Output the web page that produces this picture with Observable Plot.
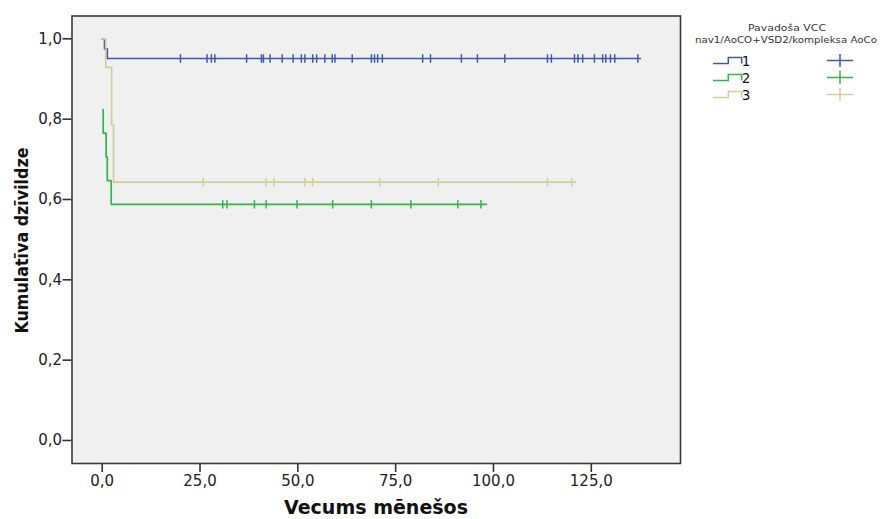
<!DOCTYPE html>
<html><head><meta charset="utf-8">
<script src="https://cdn.jsdelivr.net/npm/d3@7"></script>
<script src="https://cdn.jsdelivr.net/npm/@observablehq/plot@0.6"></script>
<style>body{margin:0;background:#fff}</style>
</head><body><div id="chart"></div>
<script>
const groups = ["1", "2", "3"];
const colors = ["#3e58ac", "#2eb848", "#d3ce97"];
const legendTitle = ["Pavadoša VCC", "nav1/AoCO+VSD2/kompleksa AoCo"];
const xLabel = "Vecums mēnešos";
const yLabel = "Kumulatīva dzīvildze";
const xTicks = [0, 25, 50, 75, 100, 125];
const yTicks = [0, 0.2, 0.4, 0.6, 0.8, 1.0];

// Kaplan–Meier step points (time in months, cumulative survival)
const g1Time = [0, 0.6, 1.3, 137.5];
const g1Surv = [1.0, 0.975, 0.951, 0.951];
const g2Time = [0.2, 0.25, 1.0, 1.3, 2.3, 98.2];
const g2Surv = [0.824, 0.765, 0.706, 0.647, 0.588, 0.588];
const g3Time = [0, 0.9, 2.4, 2.9, 121.0];
const g3Surv = [1.0, 0.929, 0.786, 0.643, 0.643];

// censored observations
const g1Censor = [20.0, 26.8, 27.9, 28.8, 36.9, 40.7, 41.2, 42.9, 46.0, 48.8, 50.9, 51.8, 53.8, 54.8, 56.9, 58.8, 59.5, 63.9, 68.8, 69.6, 70.4, 71.6, 81.9, 83.9, 91.8, 95.9, 102.9, 113.8, 114.8, 120.7, 121.6, 122.8, 125.8, 127.9, 128.7, 129.9, 131.0, 136.9];
const g2Censor = [30.8, 31.9, 38.9, 41.9, 49.8, 58.9, 68.8, 78.9, 90.9, 96.8];
const g3Censor = [25.8, 41.9, 43.9, 51.8, 53.8, 70.9, 85.9, 113.8, 120.0];

const steps = [[g1Time, g1Surv], [g2Time, g2Surv], [g3Time, g3Surv]];
const censors = [g1Censor, g2Censor, g3Censor];

const lineData = steps.flatMap(([t, s], i) => t.map((v, j) => ({group: groups[i], time: v, surv: s[j]})));
function survAt(i, time) {
  const [t, s] = steps[i];
  let v = s[0];
  for (let j = 0; j < t.length; j++) if (t[j] <= time) v = s[j];
  return v;
}
const censorData = censors.flatMap((c, i) => c.map(v => ({group: groups[i], time: v, surv: survAt(i, v)})));

const vline = {draw(ctx, size) { const h = Math.sqrt(size) / 2; ctx.moveTo(0, -h); ctx.lineTo(0, h); }};
const fmt = d => d.toFixed(1).replace(".", ",");

const chart = Plot.plot({
  width: 881, height: 519,
  marginLeft: 71.5, marginRight: 201, marginTop: 15.5, marginBottom: 56,
  style: {fontFamily: "DejaVu Sans", fontSize: "15px", color: "#222", background: "#fff"},
  x: {domain: [-7.72, 147.8]},
  y: {domain: [-0.0573, 1.0568]},
  color: {domain: groups, range: colors},
  marks: [
    Plot.frame({fill: "#f0f0f0"}),
    Plot.line(lineData, {x: "time", y: "surv", z: "group", stroke: "group", curve: "step-after", strokeWidth: 1.7}),
    Plot.dot(censorData, {x: "time", y: "surv", stroke: "group", symbol: vline, r: 4.8, strokeWidth: 1.5, fill: "none"}),
    Plot.frame({stroke: "#3a3a3a", strokeWidth: 1.6}),
    Plot.axisX(xTicks, {tickSize: 9, tickPadding: 3, tickFormat: fmt, label: null, stroke: "#333", strokeWidth: 1.6, fill: "#222"}),
    Plot.axisY(yTicks, {tickSize: 9, tickPadding: 1, tickFormat: fmt, label: null, stroke: "#333", strokeWidth: 1.6, fill: "#222"})
  ]
});
document.getElementById("chart").appendChild(chart);

const svg = d3.select(chart);
svg.append("text").attr("x", 376).attr("y", 514).attr("text-anchor", "middle")
  .attr("font-family", "DejaVu Sans").attr("font-weight", "bold").attr("font-size", 19)
  .attr("fill", "#111").attr("textLength", 184).attr("lengthAdjust", "spacingAndGlyphs").text(xLabel);
svg.append("text").attr("transform", "translate(28,240.5) rotate(-90)").attr("text-anchor", "middle")
  .attr("font-family", "DejaVu Sans").attr("font-weight", "bold").attr("font-size", 17)
  .attr("fill", "#111").attr("textLength", 186).attr("lengthAdjust", "spacingAndGlyphs").text(yLabel);

const lg = svg.append("g").attr("font-family", "DejaVu Sans").attr("fill", "#333");
lg.append("text").attr("x", 787).attr("y", 31).attr("text-anchor", "middle").attr("font-size", 9.5)
  .attr("textLength", 78).attr("lengthAdjust", "spacingAndGlyphs").text(legendTitle[0]);
lg.append("text").attr("x", 786).attr("y", 42.5).attr("text-anchor", "middle").attr("font-size", 9.5)
  .attr("textLength", 182).attr("lengthAdjust", "spacingAndGlyphs").text(legendTitle[1]);
const rowY = [60.5, 77.5, 94.5];
groups.forEach((g, i) => {
  const y = rowY[i];
  lg.append("path").attr("d", `M713,${y + 3}H728.3V${y - 3}H741.7V${y + 3}`)
    .attr("fill", "none").attr("stroke", colors[i]).attr("stroke-width", 1.5);
  lg.append("text").attr("x", 746).attr("y", y + 5.5).attr("font-size", 13.5).attr("fill", "#111").text(g);
  lg.append("path").attr("d", `M827,${y}H853M840,${y - 6.5}V${y + 6.5}`)
    .attr("fill", "none").attr("stroke", colors[i]).attr("stroke-width", 1.5);
});
</script>
</body></html>
